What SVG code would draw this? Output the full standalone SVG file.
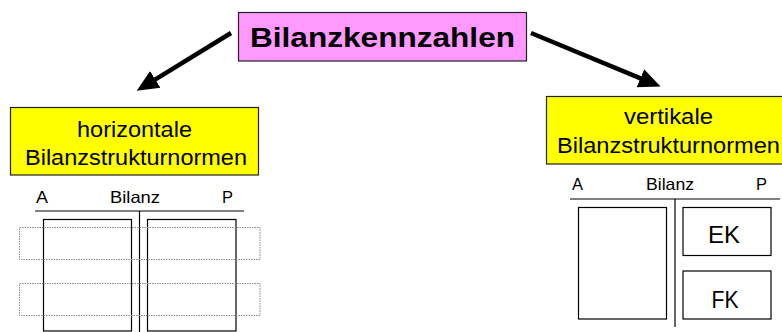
<svg xmlns="http://www.w3.org/2000/svg" width="782" height="332" viewBox="0 0 782 332">
<style>
text{font-family:"Liberation Sans",Arial,sans-serif;fill:#000}
.box{stroke:#222;stroke-width:1.2}
.t21{font-size:22px}
.t16{font-size:16.5px}
.ek{font-size:23px}
.ln{stroke:#000;stroke-width:1.2;fill:none}
.dot{stroke:#888;stroke-width:1;stroke-dasharray:1.5 1;fill:none}
.arrow{stroke:#000;stroke-width:4.5;fill:none}
</style>
<defs>
<marker id="ah" markerUnits="userSpaceOnUse" markerWidth="24" markerHeight="24" viewBox="0 -10 22 20" refX="2" refY="0" orient="auto">
<path d="M0,-9 L20,0 L0,9 z" fill="#000"/>
</marker>
</defs>
<g id="connectors">
<line class="arrow" x1="231" y1="33" x2="153.4" y2="80.6" marker-end="url(#ah)"/>
<line class="arrow" x1="531" y1="33" x2="642.4" y2="79.1" marker-end="url(#ah)"/>
</g>
<g id="root">
<rect class="box" x="238.5" y="12.5" width="288" height="48.5" fill="#FF99FF"/>
<text x="250" y="47" font-size="27" font-weight="bold" textLength="265" lengthAdjust="spacingAndGlyphs">Bilanzkennzahlen</text>
</g>
<g id="horizontal">
<rect class="box" x="10.5" y="107.5" width="248" height="67.5" fill="#FFFF00"/>
<text class="t21" x="77" y="137" textLength="115" lengthAdjust="spacingAndGlyphs">horizontale</text>
<text class="t21" x="25" y="165" textLength="222" lengthAdjust="spacingAndGlyphs">Bilanzstrukturnormen</text>
</g>
<g id="vertical">
<rect class="box" x="546.5" y="96.5" width="245" height="67.5" fill="#FFFF00"/>
<text class="t21" x="624" y="124" textLength="89" lengthAdjust="spacingAndGlyphs">vertikale</text>
<text class="t21" x="557" y="153" textLength="223" lengthAdjust="spacingAndGlyphs">Bilanzstrukturnormen</text>
</g>
<g id="bilanz-horizontal">
<text class="t16" x="36" y="203" textLength="12" lengthAdjust="spacingAndGlyphs">A</text>
<text class="t16" x="110" y="203" textLength="50" lengthAdjust="spacingAndGlyphs">Bilanz</text>
<text class="t16" x="222" y="203" textLength="11" lengthAdjust="spacingAndGlyphs">P</text>
<line class="ln" x1="35" y1="211" x2="244" y2="211"/>
<line class="ln" x1="139.5" y1="211" x2="139.5" y2="332"/>
<rect class="ln" x="43.5" y="219.5" width="88" height="111.5"/>
<rect class="ln" x="147.5" y="219.5" width="88.5" height="111.5"/>
<rect class="dot" x="19.5" y="227.5" width="240.5" height="32"/>
<rect class="dot" x="19.5" y="283.5" width="240.5" height="32"/>
</g>
<g id="bilanz-vertical">
<text class="t16" x="572" y="189.5" textLength="11" lengthAdjust="spacingAndGlyphs">A</text>
<text class="t16" x="646" y="189.5" textLength="48" lengthAdjust="spacingAndGlyphs">Bilanz</text>
<text class="t16" x="756" y="189.5" textLength="11" lengthAdjust="spacingAndGlyphs">P</text>
<line class="ln" x1="570" y1="199" x2="780" y2="199"/>
<line class="ln" x1="675" y1="199" x2="675" y2="327"/>
<rect class="ln" x="578.5" y="207.5" width="88" height="111.5"/>
<rect class="ln" x="683" y="207.5" width="88" height="48"/>
<rect class="ln" x="683" y="271" width="88" height="48"/>
<text class="ek" x="708" y="243.3" textLength="32" lengthAdjust="spacingAndGlyphs">EK</text>
<text class="ek" x="711.5" y="307.7" textLength="27" lengthAdjust="spacingAndGlyphs">FK</text>
</g>
</svg>
